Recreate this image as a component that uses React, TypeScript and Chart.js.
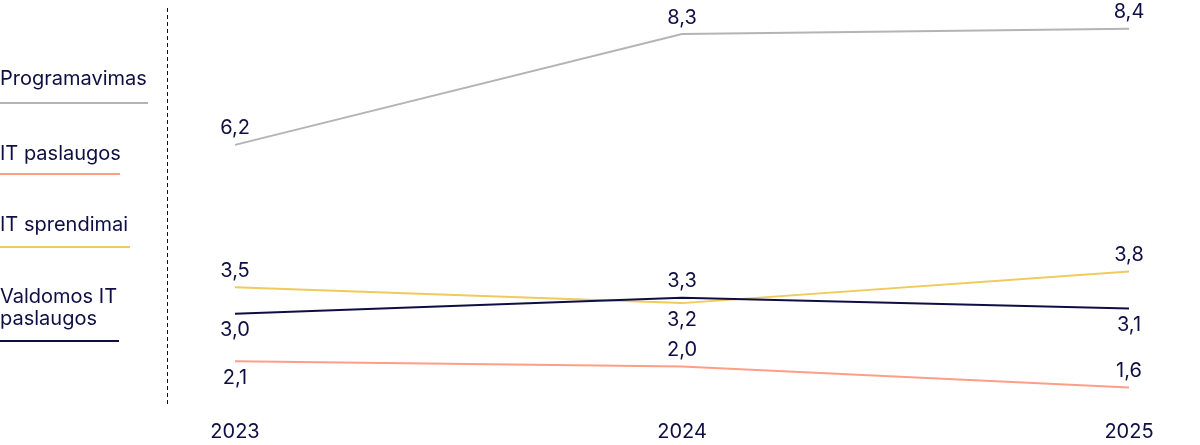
import { useEffect, useRef } from "react"
import { Chart, registerables, type ChartConfiguration, type Plugin } from "chart.js"

Chart.register(...registerables)

// data
const years = ["2023", "2024", "2025"]
const programavimas = [6.2, 8.3, 8.4]
const itPaslaugos = [2.1, 2.0, 1.6]
const itSprendimai = [3.5, 3.2, 3.8]
const valdomosIt = [3.0, 3.3, 3.1]

const seriesNames = ["Programavimas", "IT paslaugos", "IT sprendimai", "Valdomos IT paslaugos"]
const seriesColors = ["#b4b4b4", "#ff9e86", "#f0ca5c", "#0e0e45"]

// which side of the point each value label sits on
const labelSide = [
  ["up", "up", "up"],
  ["down", "up", "up"],
  ["up", "down", "up"],
  ["down", "up", "down"],
]

// legend layout (left column)
const legendTextTop = [66.7, 142.2, 212.7, 285.4]
const legendLineTop = [101.7, 173.3, 246, 340.3]
const legendLineWidth = [148, 120, 130, 119]

const NAVY = "#0e0e45"
const FONT = "Inter, 'Noto Sans', sans-serif"

const fmt = (v: number) => v.toFixed(1).replace(".", ",")

const valueLabels: Plugin<"line"> = {
  id: "valueLabels",
  afterDatasetsDraw(chart) {
    const ctx = chart.ctx
    ctx.save()
    ctx.font = `20px ${FONT}`
    ctx.fillStyle = NAVY
    ctx.textAlign = "center"
    ctx.textBaseline = "middle"
    chart.data.datasets.forEach((ds, di) => {
      const meta = chart.getDatasetMeta(di)
      meta.data.forEach((pt, i) => {
        const v = ds.data[i] as number
        const dy = labelSide[di][i] === "up" ? -16.5 : 16.5
        ctx.fillText(fmt(v), pt.x, pt.y + dy)
      })
    })
    ctx.restore()
  },
}

const divider: Plugin<"line"> = {
  id: "divider",
  beforeDraw(chart) {
    const { ctx, chartArea } = chart
    ctx.save()
    ctx.strokeStyle = "#111"
    ctx.lineWidth = 1
    ctx.setLineDash([4, 3])
    ctx.beginPath()
    ctx.moveTo(167.5, chartArea.top)
    ctx.lineTo(167.5, chartArea.bottom)
    ctx.stroke()
    ctx.restore()
  },
}

function LineChart() {
  const chartRef = useRef<HTMLCanvasElement>(null)
  const chartInstance = useRef<Chart | null>(null)

  useEffect(() => {
    if (!chartRef.current) return
    if (chartInstance.current) chartInstance.current.destroy()

    const ctx = chartRef.current.getContext("2d")
    if (!ctx) return

    const values = [programavimas, itPaslaugos, itSprendimai, valdomosIt]

    const config: ChartConfiguration<"line"> = {
      type: "line",
      data: {
        labels: years,
        datasets: values.map((d, i) => ({
          label: seriesNames[i],
          data: d,
          borderColor: seriesColors[i],
          backgroundColor: seriesColors[i],
          borderWidth: 2,
          pointRadius: 0,
          tension: 0,
          order: i === 3 ? -1 : i,
        })),
      },
      options: {
        responsive: true,
        maintainAspectRatio: false,
        animation: false,
        layout: { padding: { left: 235, right: 71, top: 8, bottom: 2 } },
        plugins: {
          legend: { display: false },
          tooltip: { enabled: false },
        },
        scales: {
          x: {
            grid: { display: false, drawTicks: false },
            border: { display: false },
            ticks: {
              color: NAVY,
              font: { family: FONT, size: 20 },
              padding: 14,
            },
            afterFit: (scale) => {
              scale.height = 37
            },
          },
          y: {
            display: false,
            min: 1.25,
            max: 8.794,
          },
        },
      },
      plugins: [divider, valueLabels],
    }

    chartInstance.current = new Chart(ctx, config)

    return () => {
      if (chartInstance.current) {
        chartInstance.current.destroy()
        chartInstance.current = null
      }
    }
  }, [])

  return (
    <div style={{ position: "absolute", left: 0, top: 0, width: 1200, height: 445 }}>
      <canvas ref={chartRef} />
    </div>
  )
}

export default function App() {
  return (
    <div style={{ position: "absolute", left: 0, top: 0, width: 1200, height: 445, background: "#fff", fontFamily: FONT }}>
      <LineChart />
      {seriesNames.map((name, i) => (
        <div key={name}>
          <div
            style={{
              position: "absolute",
              left: 0,
              top: legendTextTop[i],
              width: 130,
              fontSize: 20,
              lineHeight: "22px",
              color: NAVY,
            }}
          >
            {name}
          </div>
          <div
            style={{
              position: "absolute",
              left: 0,
              top: legendLineTop[i],
              width: legendLineWidth[i],
              height: 2,
              background: seriesColors[i],
            }}
          />
        </div>
      ))}
    </div>
  )
}
